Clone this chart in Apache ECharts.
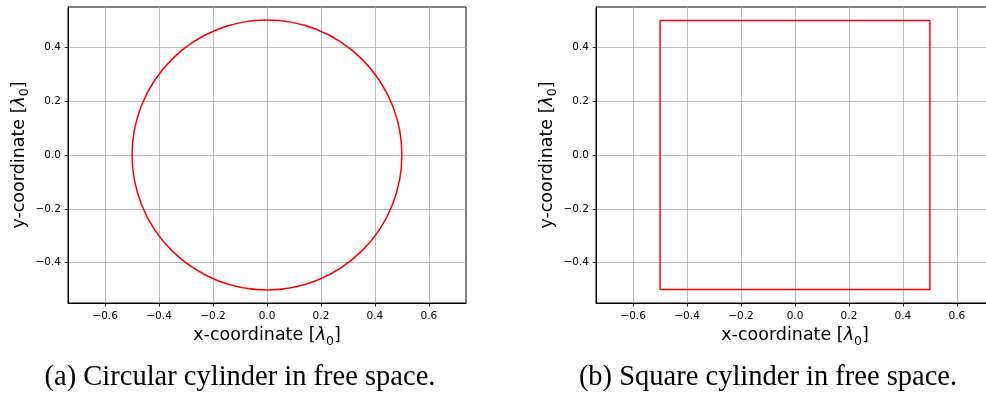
<!DOCTYPE html>
<html>
<head>
<meta charset="utf-8">
<script src="https://cdn.jsdelivr.net/npm/echarts@6/dist/echarts.min.js"></script>
<style>
  html, body { margin: 0; padding: 0; background: #fff; }
  #main { width: 986px; height: 397px; }
</style>
</head>
<body>
<div id="main"></div>
<script>
// tick values shared by both panels
var xTicks = [-0.6, -0.4, -0.2, 0.0, 0.2, 0.4, 0.6];
var yTicks = [-0.4, -0.2, 0.0, 0.2, 0.4];
var xRange = [-0.7375, 0.7375];
var yRange = [-0.55, 0.55];

// panel (a): circle given by centre and radius
var circleCenter = [0.0, 0.0];
var circleRadius = 0.5;

// panel (b): square outline, corner points
var squareX = [-0.5, 0.5, 0.5, -0.5, -0.5];
var squareY = [-0.5, -0.5, 0.5, 0.5, -0.5];

var captions = ['(a) Circular cylinder in free space.', '(b) Square cylinder in free space.'];

function fmt(v) {
  return v.toFixed(1).replace('-', '\u2212');
}

// axis title with an italic lambda and a lowered, smaller 0
var titleRich = {
  t: { fontFamily: 'DejaVu Sans', fontSize: 17.5, lineHeight: 24, verticalAlign: 'middle', color: '#000' },
  l: { fontFamily: 'DejaVu Sans', fontSize: 17.5, lineHeight: 24, verticalAlign: 'middle', fontStyle: 'italic', color: '#000' },
  s: { fontFamily: 'DejaVu Sans', fontSize: 12.5, lineHeight: 14, verticalAlign: 'bottom', color: '#000' }
};

function makeX(idx) {
  return {
    type: 'value', gridIndex: idx, min: xRange[0], max: xRange[1],
    name: '{t|x-coordinate [}{l|λ}{s|0}{t|]}',
    nameLocation: 'middle', nameGap: 20,
    nameTextStyle: { rich: titleRich },
    axisLine: { show: true, onZero: false, lineStyle: { color: '#000', width: 1 } },
    axisTick: { show: true, length: 3.5, customValues: xTicks, lineStyle: { color: '#000', width: 0.8 } },
    axisLabel: { customValues: xTicks, formatter: fmt, margin: 8, fontFamily: 'DejaVu Sans', fontSize: 10.5, color: '#000' },
    splitLine: { show: true, lineStyle: { color: '#b0b0b0', width: 0.8 } }
  };
}

function makeY(idx) {
  return {
    type: 'value', gridIndex: idx, min: yRange[0], max: yRange[1],
    name: '{t|y-coordinate [}{l|λ}{s|0}{t|]}',
    nameLocation: 'middle', nameGap: 36, nameRotate: 90,
    nameTextStyle: { rich: titleRich },
    axisLine: { show: true, onZero: false, lineStyle: { color: '#000', width: 1 } },
    axisTick: { show: true, length: 3.5, customValues: yTicks, lineStyle: { color: '#000', width: 0.8 } },
    axisLabel: { customValues: yTicks, formatter: fmt, margin: 7, fontFamily: 'DejaVu Sans', fontSize: 10.5, color: '#000' },
    splitLine: { show: true, lineStyle: { color: '#b0b0b0', width: 0.8 } }
  };
}

var chart = echarts.init(document.getElementById('main'));
chart.setOption({
  animation: false,
  grid: [
    { left: 68, top: 7, width: 398, height: 296, outerBoundsMode: 'none', show: true, borderColor: '#000', borderWidth: 1, backgroundColor: 'transparent' },
    { left: 596, top: 7, width: 398, height: 296, outerBoundsMode: 'none', show: true, borderColor: '#000', borderWidth: 1, backgroundColor: 'transparent' }
  ],
  xAxis: [makeX(0), makeX(1)],
  yAxis: [makeY(0), makeY(1)],
  graphic: [
    { type: 'text', x: 240, y: 378, style: { text: captions[0], font: '28.5px "Liberation Serif"', fill: '#000', align: 'center', verticalAlign: 'middle' } },
    { type: 'text', x: 768, y: 378, style: { text: captions[1], font: '28.5px "Liberation Serif"', fill: '#000', align: 'center', verticalAlign: 'middle' } }
  ],
  series: [
    {
      type: 'custom', xAxisIndex: 0, yAxisIndex: 0,
      data: [[circleCenter[0], circleCenter[1], circleRadius]],
      renderItem: function (params, api) {
        var c = api.coord([api.value(0), api.value(1)]);
        var r = api.size([api.value(2), 0])[0];
        return {
          type: 'circle',
          shape: { cx: c[0], cy: c[1], r: r },
          style: { fill: 'none', stroke: '#ff0000', lineWidth: 1.5 }
        };
      }
    },
    {
      type: 'line', xAxisIndex: 1, yAxisIndex: 1,
      data: squareX.map(function (x, i) { return [x, squareY[i]]; }),
      showSymbol: false, symbol: 'none',
      lineStyle: { color: '#ff0000', width: 1.5 }
    }
  ]
});
</script>
</body>
</html>
